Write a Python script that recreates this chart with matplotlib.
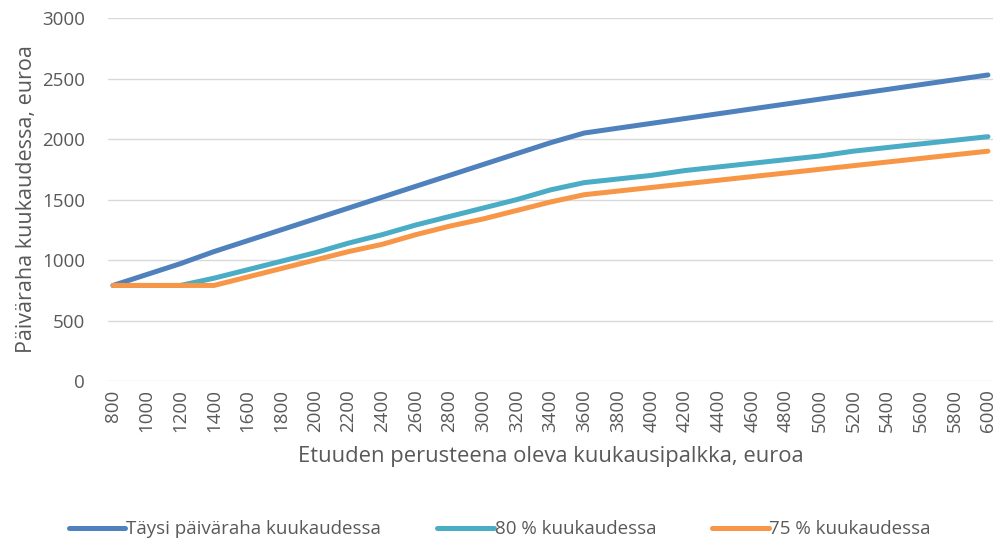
import numpy as np
import matplotlib.pyplot as plt

plt.rcParams['font.family'] = ['Open Sans', 'DejaVu Sans']

palkka = list(range(800, 6001, 200))
taysi = [790, 880, 970, 1070, 1160, 1250, 1340, 1430, 1520, 1610, 1700, 1790, 1880, 1970,
         2050, 2090, 2130, 2170, 2210, 2250, 2290, 2330, 2370, 2410, 2450, 2490, 2530]
p80 = [790, 790, 790, 850, 920, 990, 1060, 1140, 1210, 1290, 1360, 1430, 1500, 1580,
       1640, 1670, 1700, 1740, 1770, 1800, 1830, 1860, 1900, 1930, 1960, 1990, 2020]
p75 = [790, 790, 790, 790, 860, 930, 1000, 1070, 1130, 1210, 1280, 1340, 1410, 1480,
       1540, 1570, 1600, 1630, 1660, 1690, 1720, 1750, 1780, 1810, 1840, 1870, 1900]

txt = '#595959'
fig = plt.figure(figsize=(10, 5.49), dpi=100)
ax = fig.add_axes([0.108, 0.306, 0.885, 0.661])

ax.plot(palkka, taysi, color='#4F81BD', lw=3.6, solid_capstyle='round', label='Täysi päiväraha kuukaudessa')
ax.plot(palkka, p80, color='#4BACC6', lw=3.6, solid_capstyle='round', label='80 % kuukaudessa')
ax.plot(palkka, p75, color='#F79646', lw=3.6, solid_capstyle='round', label='75 % kuukaudessa')

ax.set_xlim(770, 6030)
ax.set_ylim(0, 3000)
ax.set_yticks(range(0, 3001, 500))
ax.set_xticks(palkka)
ax.set_xticklabels([str(v) for v in palkka], rotation=90)
ax.grid(axis='y', color='#d9d9d9', lw=1)
ax.set_axisbelow(True)
for s in ax.spines.values():
    s.set_visible(False)
ax.tick_params(length=0, labelsize=13.5, colors=txt, pad=6)
ax.tick_params(axis='y', pad=16.5)

ax.set_xlabel('Etuuden perusteena oleva kuukausipalkka, euroa', fontsize=15.8, color=txt, labelpad=10)
ax.set_ylabel('Päiväraha kuukaudessa, euroa', fontsize=15.5, color=txt, labelpad=4)

leg = fig.legend(loc='center', bbox_to_anchor=(0.5, 0.036), ncol=3, frameon=False,
                 fontsize=13.5, handlelength=3.0, handletextpad=0.05, columnspacing=3.0)
for t in leg.get_texts():
    t.set_color(txt)

fig.savefig('out.png', dpi=100)
